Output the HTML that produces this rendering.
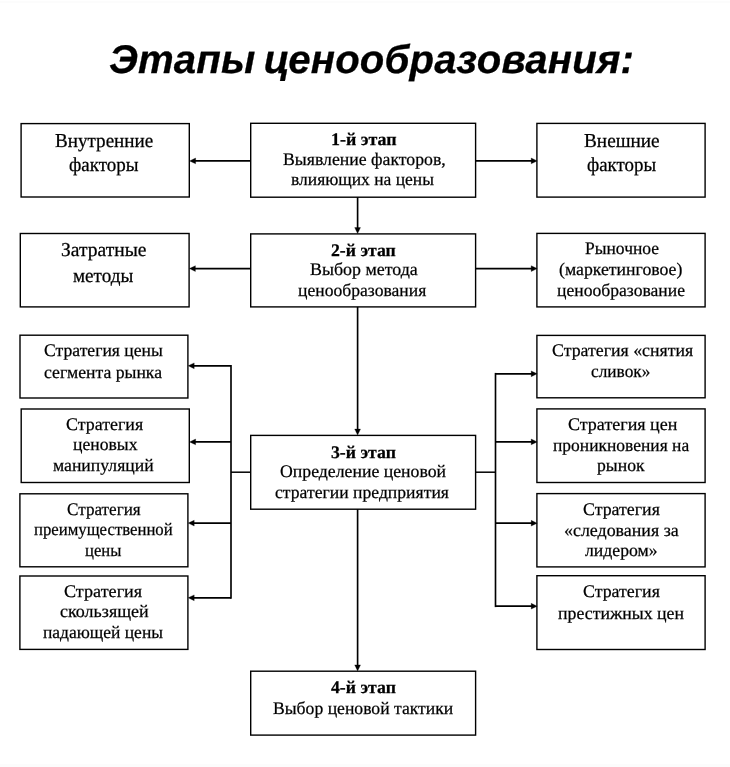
<!DOCTYPE html>
<html lang="ru"><head><meta charset="utf-8"><title>Этапы ценообразования</title>
<style>
html,body{margin:0;padding:0;background:#fff;}
body{width:730px;height:767px;position:relative;overflow:hidden;font-family:"Liberation Serif","DejaVu Serif",serif;color:#000;}
h1{position:absolute;margin:0;font:italic bold 40px/48px "Liberation Sans",sans-serif;white-space:nowrap;transform-origin:0 0;word-spacing:-3px;letter-spacing:0.15px;-webkit-text-stroke:0.3px #000;text-rendering:geometricPrecision;}
.t{position:absolute;margin:0;white-space:nowrap;transform-origin:0 0;font-size:17.7px;line-height:22px;-webkit-text-stroke:0.25px #000;text-rendering:geometricPrecision;}
.t b{font-weight:bold;}
.g{font-size:19.7px;line-height:24px;}
svg{position:absolute;left:0;top:0;}
.edge{position:absolute;left:0;width:730px;background:#fcfcfc;}
#txt{position:absolute;left:0;top:0;width:730px;height:767px;will-change:transform;}
</style></head><body>
<svg width="730" height="767" viewBox="0 0 730 767" fill="none" stroke="#000">
<rect x="21.1" y="123.6" width="168.20" height="73.40" stroke-width="1.4"/>
<rect x="20.3" y="233.5" width="168.80" height="73.40" stroke-width="1.4"/>
<rect x="20.0" y="335.2" width="167.90" height="62.80" stroke-width="1.4"/>
<rect x="21.2" y="409.0" width="168.10" height="73.50" stroke-width="1.4"/>
<rect x="19.9" y="493.8" width="168.00" height="73.00" stroke-width="1.4"/>
<rect x="19.9" y="576.0" width="168.00" height="73.40" stroke-width="1.4"/>
<rect x="250.7" y="123.3" width="224.90" height="73.90" stroke-width="1.4"/>
<rect x="250.7" y="233.9" width="224.90" height="73.00" stroke-width="1.4"/>
<rect x="250.7" y="435.4" width="224.90" height="73.80" stroke-width="1.4"/>
<rect x="250.7" y="671.2" width="224.90" height="63.90" stroke-width="1.4"/>
<rect x="536.9" y="123.4" width="168.20" height="73.70" stroke-width="1.4"/>
<rect x="536.9" y="233.4" width="168.20" height="73.50" stroke-width="1.4"/>
<rect x="536.9" y="335.4" width="168.20" height="62.40" stroke-width="1.4"/>
<rect x="536.9" y="408.9" width="168.20" height="73.60" stroke-width="1.4"/>
<rect x="536.9" y="493.6" width="168.20" height="73.30" stroke-width="1.4"/>
<rect x="536.9" y="575.7" width="168.20" height="73.80" stroke-width="1.4"/>
<path d="M192.30 160.90 L250.70 160.90" stroke-width="1.8"/>
<polygon fill="#000" stroke="#000" stroke-width="0.3" stroke-linejoin="round" points="189.60,160.90 195.60,158.00 195.60,163.80"/>
<path d="M475.60 160.90 L533.90 160.90" stroke-width="1.8"/>
<polygon fill="#000" stroke="#000" stroke-width="0.3" stroke-linejoin="round" points="537.20,160.90 531.20,158.00 531.20,163.80"/>
<path d="M192.10 268.60 L250.70 268.60" stroke-width="1.8"/>
<polygon fill="#000" stroke="#000" stroke-width="0.3" stroke-linejoin="round" points="189.40,268.60 195.40,265.70 195.40,271.50"/>
<path d="M475.60 268.60 L533.90 268.60" stroke-width="1.8"/>
<polygon fill="#000" stroke="#000" stroke-width="0.3" stroke-linejoin="round" points="537.20,268.60 531.20,265.70 531.20,271.50"/>
<path d="M357.60 197.20 L357.60 230.90" stroke-width="1.65"/>
<polygon fill="#000" stroke="#000" stroke-width="0.3" stroke-linejoin="round" points="357.60,233.60 354.70,227.60 360.50,227.60"/>
<path d="M357.60 306.90 L357.60 432.40" stroke-width="1.65"/>
<polygon fill="#000" stroke="#000" stroke-width="0.3" stroke-linejoin="round" points="357.60,435.10 354.70,429.10 360.50,429.10"/>
<path d="M357.60 509.20 L357.60 668.20" stroke-width="1.65"/>
<polygon fill="#000" stroke="#000" stroke-width="0.3" stroke-linejoin="round" points="357.60,670.90 354.70,664.90 360.50,664.90"/>
<path d="M250.70 472.20 L231.00 472.20" stroke-width="1.5"/>
<path d="M231.00 364.90 L231.00 598.70" stroke-width="1.65"/>
<path d="M190.90 365.80 L231.00 365.80" stroke-width="1.8"/>
<polygon fill="#000" stroke="#000" stroke-width="0.3" stroke-linejoin="round" points="188.20,365.80 194.20,362.90 194.20,368.70"/>
<path d="M192.30 441.90 L231.00 441.90" stroke-width="1.8"/>
<polygon fill="#000" stroke="#000" stroke-width="0.3" stroke-linejoin="round" points="189.60,441.90 195.60,439.00 195.60,444.80"/>
<path d="M190.90 523.10 L231.00 523.10" stroke-width="1.8"/>
<polygon fill="#000" stroke="#000" stroke-width="0.3" stroke-linejoin="round" points="188.20,523.10 194.20,520.20 194.20,526.00"/>
<path d="M190.90 597.80 L231.00 597.80" stroke-width="1.8"/>
<polygon fill="#000" stroke="#000" stroke-width="0.3" stroke-linejoin="round" points="188.20,597.80 194.20,594.90 194.20,600.70"/>
<path d="M475.60 472.20 L495.50 472.20" stroke-width="1.5"/>
<path d="M495.50 372.90 L495.50 607.10" stroke-width="1.65"/>
<path d="M495.50 373.80 L533.90 373.80" stroke-width="1.8"/>
<polygon fill="#000" stroke="#000" stroke-width="0.3" stroke-linejoin="round" points="537.20,373.80 531.20,370.90 531.20,376.70"/>
<path d="M495.50 441.90 L533.90 441.90" stroke-width="1.8"/>
<polygon fill="#000" stroke="#000" stroke-width="0.3" stroke-linejoin="round" points="537.20,441.90 531.20,439.00 531.20,444.80"/>
<path d="M495.50 523.20 L533.90 523.20" stroke-width="1.8"/>
<polygon fill="#000" stroke="#000" stroke-width="0.3" stroke-linejoin="round" points="537.20,523.20 531.20,520.30 531.20,526.10"/>
<path d="M495.50 606.20 L533.90 606.20" stroke-width="1.8"/>
<polygon fill="#000" stroke="#000" stroke-width="0.3" stroke-linejoin="round" points="537.20,606.20 531.20,603.30 531.20,609.10"/>
</svg>
<div class="edge" style="top:1px;height:2px"></div><div class="edge" style="top:764px;height:3px"></div>
<div id="txt">
<h1 style="left:108.80px;top:36.14px;transform:scaleX(1.0035)">Этапы ценообразования:</h1>
<p class="t g" style="left:54.60px;top:129.00px;transform:scaleX(0.9700)">Внутренние</p>
<p class="t g" style="left:69.10px;top:153.00px;transform:scaleX(0.9648)">факторы</p>
<p class="t g" style="left:584.20px;top:129.00px;transform:scaleX(0.9776)">Внешние</p>
<p class="t g" style="left:586.60px;top:153.00px;transform:scaleX(0.9592)">факторы</p>
<p class="t g" style="left:61.30px;top:238.00px;transform:scaleX(0.9922)">Затратные</p>
<p class="t g" style="left:73.20px;top:264.00px;transform:scaleX(0.9720)">методы</p>
<p class="t" style="left:330.59px;top:128.00px;transform:scaleX(1.0141)"><b>1-й этап</b></p>
<p class="t" style="left:283.00px;top:148.00px;transform:scaleX(1.0030)">Выявление факторов,</p>
<p class="t" style="left:291.10px;top:168.00px;transform:scaleX(0.9894)">влияющих на цены</p>
<p class="t" style="left:331.20px;top:239.00px;transform:scaleX(1.0015)"><b>2-й этап</b></p>
<p class="t" style="left:309.60px;top:258.00px;transform:scaleX(1.0116)">Выбор метода</p>
<p class="t" style="left:298.10px;top:279.00px;transform:scaleX(0.9946)">ценообразования</p>
<p class="t" style="left:584.80px;top:237.00px;transform:scaleX(0.9894)">Рыночное</p>
<p class="t" style="left:559.20px;top:258.00px;transform:scaleX(1.0031)">(маркетинговое)</p>
<p class="t" style="left:557.20px;top:279.00px;transform:scaleX(0.9946)">ценообразование</p>
<p class="t" style="left:44.00px;top:339.00px;transform:scaleX(0.9968)">Стратегия цены</p>
<p class="t" style="left:44.00px;top:361.00px;transform:scaleX(1.0001)">сегмента рынка</p>
<p class="t" style="left:65.70px;top:413.00px;transform:scaleX(1.0125)">Стратегия</p>
<p class="t" style="left:73.10px;top:433.00px;transform:scaleX(0.9960)">ценовых</p>
<p class="t" style="left:53.10px;top:454.00px;transform:scaleX(0.9992)">манипуляций</p>
<p class="t" style="left:66.90px;top:498.00px;transform:scaleX(0.9678)">Стратегия</p>
<p class="t" style="left:33.60px;top:518.00px;transform:scaleX(0.9468)">преимущественной</p>
<p class="t" style="left:85.10px;top:539.00px;transform:scaleX(0.9386)">цены</p>
<p class="t" style="left:64.00px;top:580.00px;transform:scaleX(1.0257)">Стратегия</p>
<p class="t" style="left:60.00px;top:600.00px;transform:scaleX(1.0178)">скользящей</p>
<p class="t" style="left:42.50px;top:621.00px;transform:scaleX(0.9883)">падающей цены</p>
<p class="t" style="left:331.30px;top:441.00px;transform:scaleX(1.0030)"><b>3-й этап</b></p>
<p class="t" style="left:280.00px;top:460.00px;transform:scaleX(1.0028)">Определение ценовой</p>
<p class="t" style="left:275.40px;top:481.00px;transform:scaleX(0.9974)">стратегии предприятия</p>
<p class="t" style="left:552.00px;top:339.00px;transform:scaleX(1.0065)">Стратегия «снятия</p>
<p class="t" style="left:591.20px;top:360.00px;transform:scaleX(0.9798)">сливок»</p>
<p class="t" style="left:568.10px;top:413.00px;transform:scaleX(1.0183)">Стратегия цен</p>
<p class="t" style="left:553.10px;top:434.00px;transform:scaleX(0.9874)">проникновения на</p>
<p class="t" style="left:596.90px;top:454.00px;transform:scaleX(0.9992)">рынок</p>
<p class="t" style="left:583.30px;top:498.00px;transform:scaleX(1.0086)">Стратегия</p>
<p class="t" style="left:564.19px;top:519.00px;transform:scaleX(1.0122)">«следования за</p>
<p class="t" style="left:585.10px;top:539.00px;transform:scaleX(1.0002)">лидером»</p>
<p class="t" style="left:583.30px;top:580.00px;transform:scaleX(1.0086)">Стратегия</p>
<p class="t" style="left:557.80px;top:602.00px;transform:scaleX(1.0056)">престижных цен</p>
<p class="t" style="left:331.00px;top:676.00px;transform:scaleX(1.0030)"><b>4-й этап</b></p>
<p class="t" style="left:272.90px;top:697.00px;transform:scaleX(0.9971)">Выбор ценовой тактики</p>
</div>
</body></html>
